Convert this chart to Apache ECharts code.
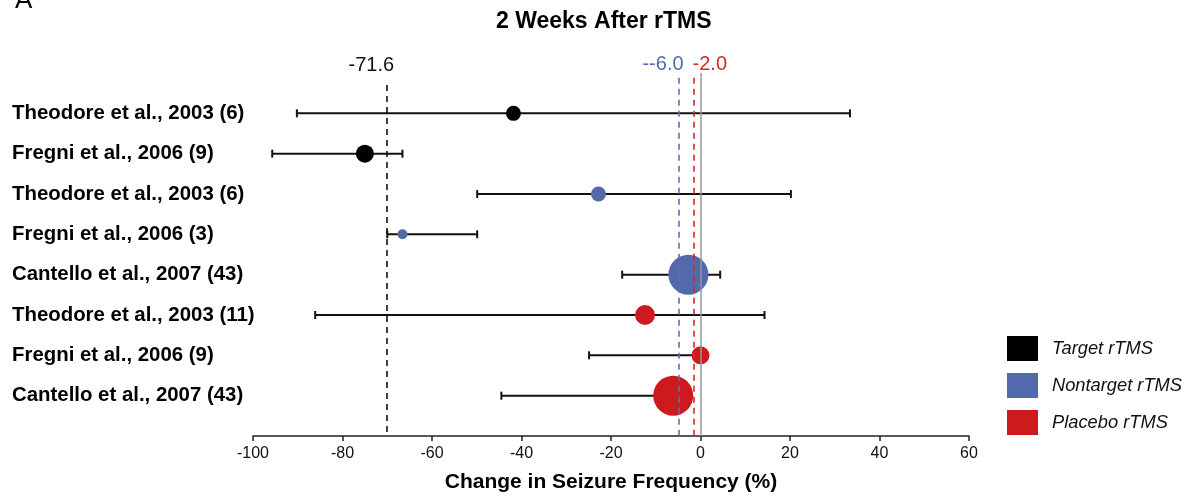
<!DOCTYPE html>
<html>
<head>
<meta charset="utf-8">
<script src="https://cdn.jsdelivr.net/npm/echarts@6/dist/echarts.min.js"></script>
<style>
html,body{margin:0;padding:0;background:#fff;}
#chart{width:1192px;height:499px;}
</style>
</head>
<body>
<div id="chart"></div>
<script>
// ---- data ----
const categories = [
  'Theodore et al., 2003 (6)',
  'Fregni et al., 2006 (9)',
  'Theodore et al., 2003 (6)',
  'Fregni et al., 2006 (3)',
  'Cantello et al., 2007 (43)',
  'Theodore et al., 2003 (11)',
  'Fregni et al., 2006 (9)',
  'Cantello et al., 2007 (43)'
];
const groups = ['Target rTMS','Target rTMS','Nontarget rTMS','Nontarget rTMS','Nontarget rTMS','Placebo rTMS','Placebo rTMS','Placebo rTMS'];
const means = [-41.8, -75.0, -22.8, -66.6, -2.7, -12.4, 0.0, -6.1];
const lows  = [-90.2, -95.7, -49.9, -70.0, -17.5, -86.1, -24.9, -44.5];
const highs = [33.4, -66.6, 20.2, -49.9, 4.4, 14.3, 0.0, -6.1];
const sizes = [15, 18, 15, 10, 40, 20, 18, 40];
const groupNames = ['Target rTMS', 'Nontarget rTMS', 'Placebo rTMS'];
const groupColors = ['#000000', '#5469ab', '#cc1a1e'];
const refValues = [-70.2, -4.8, -1.5];
const refLabels = ['-71.6', '--6.0', '-2.0'];
const xTicks = [-100, -80, -60, -40, -20, 0, 20, 40, 60];

// ---- build ----
const n = categories.length;
const rowY = i => n - i;
const FONT = "'Liberation Sans', Arial, sans-serif";

const errData = categories.map((c, i) => [lows[i], highs[i], rowY(i)]);

const scatterSeries = groupNames.map((g, gi) => ({
  name: g,
  type: 'scatter',
  z: 3,
  itemStyle: { color: groupColors[gi], opacity: 1 },
  symbolSize: d => d[2],
  data: categories.map((c, i) => i).filter(i => groups[i] === g).map(i => [means[i], rowY(i), sizes[i]]),
  emphasis: { disabled: true }
}));

const refColors = ['#111111', '#5a6fb5', '#d8262b'];
const refTextColors = ['#111111', '#5568ad', '#d42a2a'];
const refTops = [8.70, 8.88, 8.88];
const refPads = [[0, 30, 0, 0], [0, 32, 0, 0], [0, 0, 0, 32]];
const refDist = [10, 3, 3];

const refLines = refValues.map((v, k) => [
  { coord: [v, refTops[k]],
    lineStyle: { color: refColors[k], type: [6, 5], width: 1.6 },
    label: { show: true, position: 'start', formatter: refLabels[k], color: refTextColors[k],
             fontSize: 20, fontFamily: FONT, padding: refPads[k], distance: refDist[k] } },
  { coord: [v, 0] }
]);

const option = {
  animation: false,
  backgroundColor: '#ffffff',
  title: [
    { text: '2 Weeks After rTMS', left: 491, top: 5,
      textStyle: { fontSize: 23, fontWeight: 'bold', color: '#000', fontFamily: FONT } },
    { text: 'A', left: 10, top: -17,
      textStyle: { fontSize: 26, fontWeight: 'normal', color: '#000', fontFamily: FONT } }
  ],
  legend: {
    data: groupNames,
    orient: 'vertical',
    left: 1007, top: 336,
    itemWidth: 31, itemHeight: 25, itemGap: 12,
    icon: 'rect',
    padding: 0,
    selectedMode: false,
    textStyle: { fontSize: 18.3, fontStyle: 'italic', color: '#111', fontFamily: FONT, padding: [0, 0, 0, 9] }
  },
  grid: { left: 253, right: 223, top: 73, bottom: 63 },
  xAxis: {
    type: 'value', min: xTicks[0], max: xTicks[xTicks.length - 1], interval: 20,
    name: 'Change in Seizure Frequency (%)', nameLocation: 'middle', nameGap: 36,
    nameTextStyle: { fontSize: 21, fontWeight: 'bold', color: '#000', fontFamily: FONT },
    axisLine: { lineStyle: { color: '#222', width: 1.5 } },
    axisTick: { show: true, length: 5, lineStyle: { color: '#222', width: 1.5 } },
    axisLabel: { fontSize: 16, color: '#111', margin: 10, fontFamily: FONT },
    splitLine: { show: false }
  },
  yAxis: {
    type: 'value', min: 0, max: 9, interval: 1,
    axisLine: { show: false }, axisTick: { show: false }, splitLine: { show: false },
    axisLabel: {
      align: 'left', margin: 241, fontSize: 20.4, fontWeight: 'bold', color: '#000', fontFamily: FONT,
      formatter: v => (v >= 1 && v <= n) ? categories[n - v] : ''
    }
  },
  series: [
    {
      type: 'line', data: [], z: 1, silent: true,
      markLine: { symbol: 'none', silent: true, animation: false,
        lineStyle: { color: '#999999', type: 'solid', width: 1.5 },
        label: { show: false },
        data: [[{ coord: [0, 9] }, { coord: [0, 0] }]] }
    },
    {
      type: 'custom', z: 2, silent: true,
      data: errData,
      renderItem: (params, api) => {
        const lo = api.coord([api.value(0), api.value(2)]);
        const hi = api.coord([api.value(1), api.value(2)]);
        const h = 4;
        const st = { stroke: '#111', lineWidth: 2 };
        return { type: 'group', children: [
          { type: 'line', shape: { x1: lo[0], y1: lo[1], x2: hi[0], y2: hi[1] }, style: st },
          { type: 'line', shape: { x1: lo[0], y1: lo[1] - h, x2: lo[0], y2: lo[1] + h }, style: st },
          { type: 'line', shape: { x1: hi[0], y1: hi[1] - h, x2: hi[0], y2: hi[1] + h }, style: st }
        ]};
      }
    },
    ...scatterSeries,
    {
      type: 'line', data: [], z: 5, silent: true,
      markLine: { symbol: 'none', silent: true, animation: false, data: refLines }
    }
  ]
};

const chart = echarts.init(document.getElementById('chart'));
chart.setOption(option);
</script>
</body>
</html>
